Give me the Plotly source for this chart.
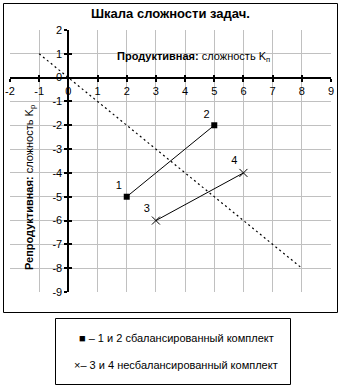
import plotly.graph_objects as go

# Balanced set (tasks 1 and 2)
bal_x = [2, 5]
bal_y = [-5, -2]
bal_labels = ["1", "2"]

# Unbalanced set (tasks 3 and 4)
unb_x = [3, 6]
unb_y = [-6, -4]
unb_labels = ["3", "4"]

# Dotted reference diagonal
diag_x = [-1, 8]
diag_y = [1, -8]

x_ticks = list(range(-2, 10))
y_ticks = list(range(-9, 3))
x_range = [-2, 9]
y_range = [-9, 2]

FONT = "Liberation Sans, Arial, sans-serif"
W, H = 341, 389
ML, MR, MT, MB = 10, 10, 30, 97
PW = W - ML - MR
PH = H - MT - MB


def px_x(px):
    return (px - ML) / PW


def px_y(py):
    return (H - MB - py) / PH


fig = go.Figure()

fig.add_trace(go.Scatter(
    x=diag_x, y=diag_y, mode="lines",
    line=dict(color="black", width=1.2, dash="2px,3px"),
    hoverinfo="skip", showlegend=False,
))

fig.add_trace(go.Scatter(
    x=bal_x, y=bal_y, mode="lines+markers+text",
    line=dict(color="black", width=1),
    marker=dict(symbol="square", size=6, color="black"),
    text=bal_labels, textposition="top left",
    textfont=dict(family=FONT, size=11, color="black"),
    showlegend=False,
))

fig.add_trace(go.Scatter(
    x=unb_x, y=unb_y, mode="lines+markers+text",
    line=dict(color="black", width=1),
    marker=dict(symbol="x-thin", size=8, color="black",
                line=dict(color="black", width=1)),
    text=unb_labels, textposition="top left",
    textfont=dict(family=FONT, size=11, color="black"),
    showlegend=False,
))

# invisible trace carrying the overlay axes used for the inner half of the tick marks
fig.add_trace(go.Scatter(
    x=[None], y=[None], xaxis="x2", yaxis="y2",
    mode="markers", showlegend=False, hoverinfo="skip",
))

x_pos = (0 - x_range[0]) / (x_range[1] - x_range[0])
y_pos = (0 - y_range[0]) / (y_range[1] - y_range[0])

common_tick = dict(family=FONT, size=11, color="black")

fig.update_layout(
    width=W, height=H,
    margin=dict(l=ML, r=MR, t=MT, b=MB),
    paper_bgcolor="white", plot_bgcolor="white",
    font=dict(family=FONT, size=11, color="black"),
    xaxis=dict(
        range=x_range, tickvals=x_ticks, ticktext=[str(v) for v in x_ticks],
        anchor="free", position=y_pos, side="bottom",
        showgrid=True, gridcolor="#c0c0c0", gridwidth=1,
        zeroline=False, showline=True, linecolor="black", linewidth=2,
        ticks="outside", ticklen=3, tickwidth=1.5, tickcolor="black",
        tickfont=common_tick, automargin=False, fixedrange=True,
    ),
    yaxis=dict(
        range=y_range, tickvals=y_ticks, ticktext=[str(v) for v in y_ticks],
        anchor="free", position=x_pos, side="left",
        showgrid=True, gridcolor="#c0c0c0", gridwidth=1,
        zeroline=False, showline=True, linecolor="black", linewidth=2,
        ticks="outside", ticklen=3, tickwidth=1.5, tickcolor="black",
        tickfont=common_tick, automargin=False, fixedrange=True,
    ),
    xaxis2=dict(
        range=x_range, tickvals=x_ticks, overlaying="x",
        anchor="free", position=y_pos, side="bottom",
        showgrid=False, zeroline=False, showline=False, showticklabels=False,
        ticks="inside", ticklen=3, tickwidth=1.5, tickcolor="black",
        automargin=False, fixedrange=True,
    ),
    yaxis2=dict(
        range=y_range, tickvals=y_ticks, overlaying="y",
        anchor="free", position=x_pos, side="left",
        showgrid=False, zeroline=False, showline=False, showticklabels=False,
        ticks="inside", ticklen=3, tickwidth=1.5, tickcolor="black",
        automargin=False, fixedrange=True,
    ),
    showlegend=False,
)

# Chart frame and the legend box
fig.add_shape(type="rect", xref="paper", yref="paper",
              x0=px_x(3.5), x1=px_x(337.5), y0=px_y(312.5), y1=px_y(3.5),
              line=dict(color="black", width=1), layer="above")
fig.add_shape(type="rect", xref="paper", yref="paper",
              x0=px_x(55.5), x1=px_x(290.5), y0=px_y(384.5), y1=px_y(318.5),
              line=dict(color="black", width=1), layer="above")

annotations = [
    dict(text="<b>Шкала сложности задач.</b>", xref="paper", yref="paper",
         x=px_x(171), y=px_y(14), xanchor="center", yanchor="middle",
         showarrow=False, font=dict(family=FONT, size=13, color="black")),
    dict(text="<b>Продуктивная:</b> сложность K<sub>п</sub>",
         xref="x", yref="y", x=4.3, y=0.85, xanchor="center", yanchor="middle",
         showarrow=False, font=dict(family=FONT, size=11, color="black")),
    dict(text="<b>Репродуктивная:</b> сложность K<sub>р</sub>",
         xref="x", yref="y", x=-1.32, y=-4.6, xanchor="center", yanchor="middle",
         textangle=-90, showarrow=False,
         font=dict(family=FONT, size=11, color="black")),
    dict(text="■ – 1 и 2 сбалансированный комплект", xref="paper", yref="paper",
         x=px_x(77), y=px_y(338), xanchor="left", yanchor="middle",
         showarrow=False, font=dict(family=FONT, size=11, color="black")),
    dict(text="×– 3 и 4 несбалансированный комплект", xref="paper", yref="paper",
         x=px_x(72), y=px_y(365), xanchor="left", yanchor="middle",
         showarrow=False, font=dict(family=FONT, size=11, color="black")),
]
fig.update_layout(annotations=annotations)

fig.write_html("out.html")
